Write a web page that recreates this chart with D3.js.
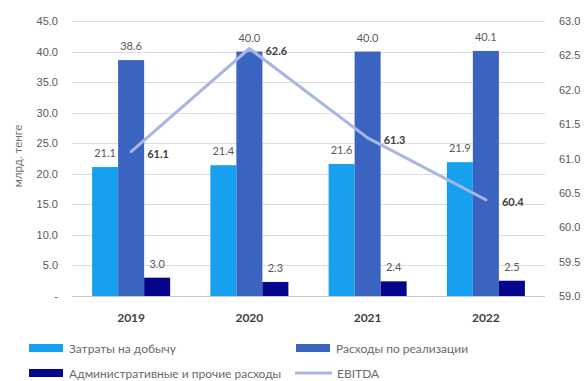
<!DOCTYPE html>
<html>
<head>
<meta charset="utf-8">
<script src="https://cdn.jsdelivr.net/npm/d3@7"></script>
<style>
  html, body { margin: 0; padding: 0; background: #fff; }
  svg { display: block; font-family: Lato, "Open Sans", sans-serif; }
</style>
</head>
<body>
<svg id="chart" width="586" height="381"></svg>
<script>
// Costs by year (billion tenge) and EBITDA on the secondary axis
const years = ["2019", "2020", "2021", "2022"];
const extraction = [21.1, 21.4, 21.6, 21.9];
const selling = [38.6, 40.0, 40.0, 40.1];
const admin = [3.0, 2.3, 2.4, 2.5];
const ebitda = [61.1, 62.6, 61.3, 60.4];
const leftTicks = [0, 5, 10, 15, 20, 25, 30, 35, 40, 45];
const rightTicks = [59.0, 59.5, 60.0, 60.5, 61.0, 61.5, 62.0, 62.5, 63.0];

const seriesNames = ["Затраты на добычу", "Расходы по реализации", "Административные и прочие расходы"];
const seriesValues = [extraction, selling, admin];
const colors = ["#16a0ee", "#3a64c0", "#06068c"];
const lineColor = "#a9b6e2";
const textGray = "#595959";

const svg = d3.select("#chart");
const plot = { left: 72, right: 545, top: 21, bottom: 296 };

const x = d3.scaleBand().domain(years).range([plot.left, plot.right]).paddingInner(0.34).paddingOuter(0.17);
const xs = d3.scaleBand().domain(d3.range(3)).range([0, x.bandwidth()]);
const y = d3.scaleLinear().domain([0, 45]).range([plot.bottom, plot.top]);
const y2 = d3.scaleLinear().domain([59, 63]).range([plot.bottom, plot.top]);

// gridlines
svg.append("g").selectAll("line").data(leftTicks).join("line")
  .attr("x1", plot.left).attr("x2", plot.right)
  .attr("y1", d => Math.round(y(d)) + 0.5).attr("y2", d => Math.round(y(d)) + 0.5)
  .attr("stroke", d => d === 0 ? "#c8c8c8" : "#dedede").attr("stroke-width", 1);

// left axis
const leftAxis = d3.axisLeft(y).tickValues(leftTicks).tickSize(0).tickPadding(0)
  .tickFormat(d => d === 0 ? "-" : d3.format(".1f")(d));
svg.append("g").attr("transform", `translate(${plot.left - 14},0)`).call(leftAxis)
  .call(g => g.select(".domain").remove())
  .selectAll("text").attr("fill", textGray).attr("font-size", 11);

// right axis
const rightAxis = d3.axisRight(y2).tickValues(rightTicks).tickSize(0).tickPadding(0)
  .tickFormat(d3.format(".1f"));
svg.append("g").attr("transform", `translate(${plot.right + 14},0)`).call(rightAxis)
  .call(g => g.select(".domain").remove())
  .selectAll("text").attr("fill", textGray).attr("font-size", 11);

// y axis title
svg.append("text")
  .attr("transform", "translate(17,156) rotate(-90)")
  .attr("text-anchor", "middle").attr("dominant-baseline", "central")
  .attr("fill", "#707070").attr("font-size", 11.5)
  .text("млрд. тенге");

// bars
const groups = svg.append("g").selectAll("g").data(years).join("g")
  .attr("transform", d => `translate(${x(d)},0)`);
groups.selectAll("rect").data((d, i) => seriesValues.map((s, k) => ({ k, v: s[i] }))).join("rect")
  .attr("x", d => xs(d.k)).attr("width", xs.bandwidth())
  .attr("y", d => y(d.v)).attr("height", d => y(0) - y(d.v))
  .attr("fill", d => colors[d.k]);

// bar value labels
groups.selectAll("text").data((d, i) => seriesValues.map((s, k) => ({ k, v: s[i] }))).join("text")
  .attr("x", d => xs(d.k) + xs.bandwidth() / 2).attr("y", d => y(d.v) - 10)
  .attr("text-anchor", "middle").attr("fill", textGray).attr("font-size", 11)
  .text(d => d3.format(".1f")(d.v));

// EBITDA line
const cx = d => x(d) + x.bandwidth() / 2;
const line = d3.line().x((d, i) => cx(years[i])).y(d => y2(d));
svg.append("path").datum(ebitda).attr("d", line)
  .attr("fill", "none").attr("stroke", lineColor).attr("stroke-width", 3)
  .attr("stroke-linejoin", "round").attr("stroke-linecap", "round");

svg.append("g").selectAll("text").data(ebitda).join("text")
  .attr("x", (d, i) => cx(years[i]) + 16).attr("y", d => y2(d) + 6)
  .attr("fill", "#404040").attr("font-size", 11).attr("font-weight", "bold")
  .text(d => d3.format(".1f")(d));

// x axis labels
svg.append("g").selectAll("text").data(years).join("text")
  .attr("x", d => cx(d)).attr("y", 322)
  .attr("text-anchor", "middle").attr("fill", "#404040").attr("font-size", 12).attr("font-weight", "bold")
  .text(d => d);

// legend
const legend = [
  { name: seriesNames[0], color: colors[0], type: "rect", sx: 29, tx: 69, y: 348 },
  { name: seriesNames[1], color: colors[1], type: "rect", sx: 296, tx: 336, y: 348 },
  { name: seriesNames[2], color: colors[2], type: "rect", sx: 29, tx: 69, y: 373 },
  { name: "EBITDA", color: lineColor, type: "line", sx: 295, tx: 337, y: 373 }
];
const lg = svg.append("g").selectAll("g").data(legend).join("g");
lg.filter(d => d.type === "rect").append("rect")
  .attr("x", d => d.sx).attr("y", d => d.y - 4).attr("width", 34).attr("height", 8)
  .attr("fill", d => d.color);
lg.filter(d => d.type === "line").append("line")
  .attr("x1", d => d.sx).attr("x2", d => d.sx + 37).attr("y1", d => d.y).attr("y2", d => d.y)
  .attr("stroke", d => d.color).attr("stroke-width", 3);
lg.append("text").attr("x", d => d.tx).attr("y", d => d.y)
  .attr("dominant-baseline", "central")
  .attr("fill", "#6a6a6a").attr("font-size", 12).text(d => d.name);
</script>
</body>
</html>
